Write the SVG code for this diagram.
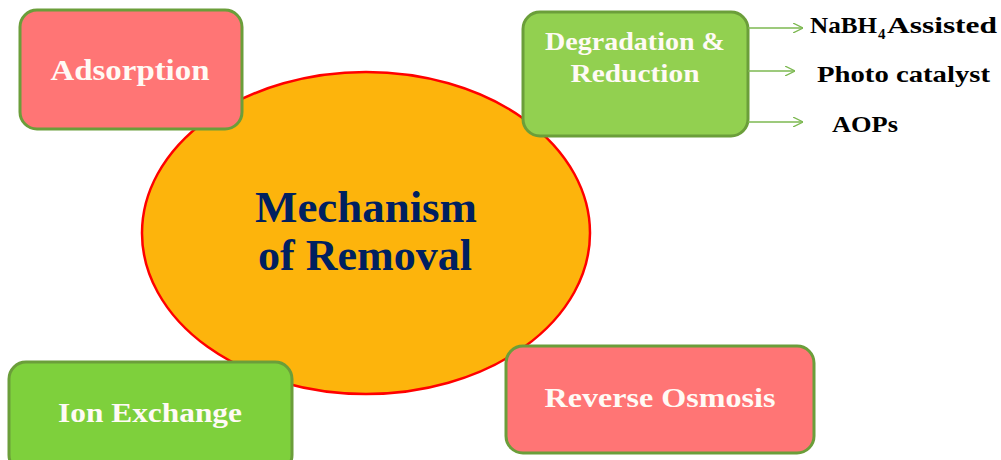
<svg xmlns="http://www.w3.org/2000/svg" width="1001" height="460" viewBox="0 0 1001 460">
<style>
.box{stroke:#6b9e3a;stroke-width:3}
.pink{fill:#ff7575}
.g1{fill:#92d050}
.g2{fill:#7ed03c}
.bt{font-family:"Liberation Serif","DejaVu Serif",serif;font-weight:bold;fill:#fffaf5;text-anchor:middle}
.ct{font-family:"Liberation Serif","DejaVu Serif",serif;font-weight:bold;fill:#002060;text-anchor:middle;font-size:44px}
.rt{font-family:"Liberation Serif","DejaVu Serif",serif;font-weight:bold;fill:#000;font-size:24px}
.sub{font-size:15px}
.conn{stroke:#7cb850;stroke-width:1.3;fill:none}
</style>
<defs>
<marker id="arr" viewBox="0 0 10 10" refX="10" refY="5" markerWidth="10" markerHeight="10" markerUnits="userSpaceOnUse" orient="auto">
<path d="M0,0 L10,5 L0,10" fill="none" stroke="#7cb850" stroke-width="1.3"/>
</marker>
</defs>
<rect width="1001" height="460" fill="#fff"/>
<g id="center">
<ellipse cx="366" cy="233" rx="224" ry="161" fill="#fdb40c" stroke="#ff0000" stroke-width="2.5"/>
<text class="ct" x="366" y="222" textLength="222" lengthAdjust="spacingAndGlyphs">Mechanism</text>
<text class="ct" x="365" y="270" textLength="214" lengthAdjust="spacingAndGlyphs">of Removal</text>
</g>
<g id="adsorption">
<rect class="box pink" x="20" y="10" width="222" height="119" rx="17"/>
<text class="bt" x="130" y="80" font-size="29" textLength="159" lengthAdjust="spacingAndGlyphs">Adsorption</text>
</g>
<g id="degradation">
<rect class="box g1" x="523" y="12" width="225" height="124" rx="17"/>
<text class="bt" x="635" y="50" font-size="25" textLength="180" lengthAdjust="spacingAndGlyphs">Degradation &amp;</text>
<text class="bt" x="635" y="82" font-size="25" textLength="129" lengthAdjust="spacingAndGlyphs">Reduction</text>
</g>
<g id="ion-exchange">
<rect class="box g2" x="9" y="362" width="283" height="110" rx="17"/>
<text class="bt" x="150" y="422" font-size="28" textLength="184" lengthAdjust="spacingAndGlyphs">Ion Exchange</text>
</g>
<g id="reverse-osmosis">
<rect class="box pink" x="506" y="346" width="308" height="107" rx="17"/>
<text class="bt" x="660" y="407" font-size="27" textLength="231" lengthAdjust="spacingAndGlyphs">Reverse Osmosis</text>
</g>
<g id="connectors">
<line class="conn" x1="748" y1="28" x2="803" y2="28" marker-end="url(#arr)"/>
<line class="conn" x1="748" y1="71" x2="795" y2="71" marker-end="url(#arr)"/>
<line class="conn" x1="748" y1="122" x2="803" y2="122" marker-end="url(#arr)"/>
</g>
<g id="nabh4">
<text class="rt" x="810" y="33" textLength="67" lengthAdjust="spacingAndGlyphs">NaBH</text>
<text class="rt sub" x="878" y="39">4</text>
<text class="rt" x="887" y="33" textLength="110" lengthAdjust="spacingAndGlyphs">Assisted</text>
</g>
<g id="photo-catalyst">
<text class="rt" x="817" y="82" textLength="173" lengthAdjust="spacingAndGlyphs">Photo catalyst</text>
</g>
<g id="aops">
<text class="rt" x="832" y="132" textLength="66" lengthAdjust="spacingAndGlyphs">AOPs</text>
</g>
</svg>
